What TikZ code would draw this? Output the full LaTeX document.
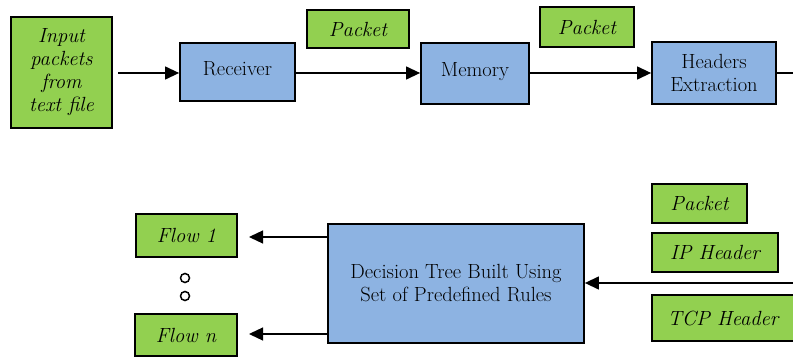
\documentclass[tikz,border=0pt]{standalone}
\usetikzlibrary{arrows.meta}
\definecolor{gbox}{HTML}{92D050}
\definecolor{bbox}{HTML}{8DB3E2}
\tikzset{
  base/.style={draw=black, line width=1.8pt, inner sep=0pt, align=center, font=\fontsize{20.5}{23}\selectfont},
  gnode/.style={base, fill=gbox, font=\fontsize{20.5}{23}\selectfont\itshape},
  bnode/.style={base, fill=bbox},
  arr/.style={line width=1.3pt, -{Triangle[length=14pt,width=13pt]}},
  ln/.style={line width=1.3pt},
  dot/.style={draw=black, line width=1.5pt, circle, minimum size=9pt, inner sep=0pt}
}
\newcommand{\boxat}[7]{% style, name, x1, y1, x2, y2, text
  \node[#1, minimum width={(#5-#3)*1pt}, minimum height={(#6-#4)*1pt}] (#2) at ({(#3+#5)/2},{(#4+#6)/2}) {#7};}
\begin{document}
\begin{tikzpicture}[x=1pt,y=-1pt]
\useasboundingbox (0,0) rectangle (793,358);
\boxat{gnode}{inp}{11}{17}{112}{128}{Input\\packets\\from\\text file}
\boxat{bnode}{rec}{180}{43}{295}{101}{\raisebox{6pt}{Receiver}}
\boxat{gnode}{pk1}{307}{10}{409}{48}{Packet}
\boxat{bnode}{mem}{421}{43}{529}{104}{\raisebox{7pt}{Memory}}
\boxat{gnode}{pk2}{540}{7}{634}{47}{Packet}
\boxat{bnode}{hdr}{652}{42}{776}{104}{Headers\\Extraction}
\coordinate (s1) at (118,73);
\coordinate (e1) at (793,73);
\draw[arr] (s1) -- (rec.west|-s1);
\draw[arr] (rec.east|-s1) -- (mem.west|-s1);
\draw[arr] (mem.east|-s1) -- (hdr.west|-s1);
\draw[ln] (hdr.east|-s1) -- (e1);

\boxat{gnode}{f1}{136}{214}{237}{257}{Flow 1}
\boxat{gnode}{fn}{135}{314}{237}{356}{Flow n}
\node[dot] (d1) at (185,278) {};
\node[dot] (d2) at (185,296) {};
\boxat{bnode}{dt}{328}{224}{584}{343}{Decision Tree Built Using\\Set of Predefined Rules}
\boxat{gnode}{pk3}{652}{184}{747}{223}{Packet}
\boxat{gnode}{iph}{652}{233}{778}{272}{IP Header}
\boxat{gnode}{tcp}{652}{295}{794}{341}{TCP Header}
\coordinate (a1) at (249,237);
\coordinate (a2) at (249,334);
\coordinate (s2) at (793,283);
\draw[arr] (dt.west|-a1) -- (a1);
\draw[arr] (dt.west|-a2) -- (a2);
\draw[arr] (s2) -- (dt.east|-s2);
\end{tikzpicture}
\end{document}
